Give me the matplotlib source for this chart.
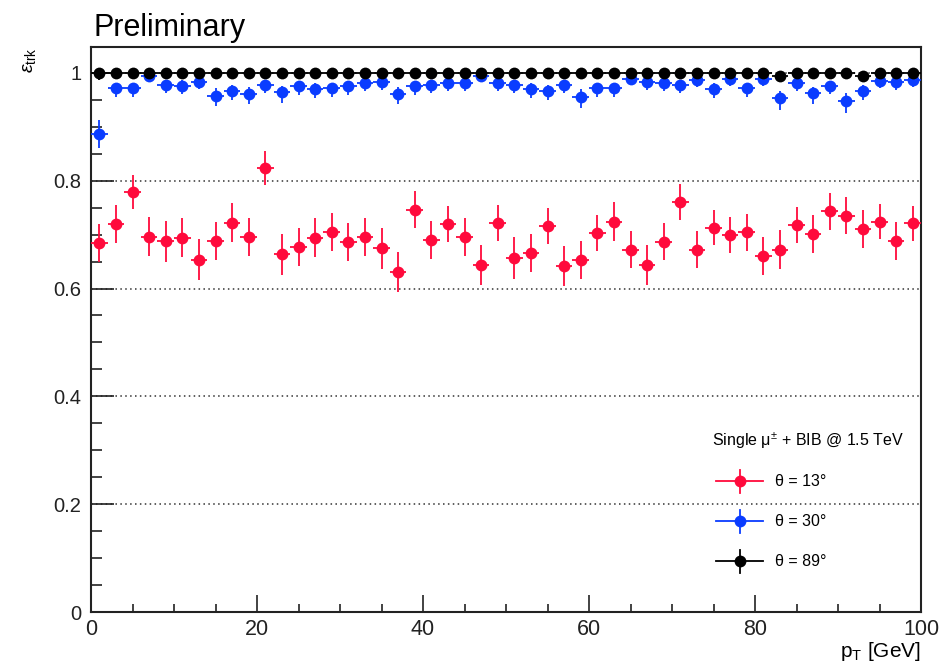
import matplotlib
matplotlib.use("Agg")
import matplotlib.pyplot as plt
from matplotlib.ticker import MultipleLocator

plt.rcParams['font.family'] = ['Liberation Sans', 'DejaVu Sans']
plt.rcParams['mathtext.fontset'] = 'custom'
plt.rcParams['mathtext.rm'] = 'Liberation Sans'
plt.rcParams['mathtext.it'] = 'Liberation Sans:italic'
plt.rcParams['mathtext.bf'] = 'Liberation Sans:bold'

# pT bin centres (2 GeV bins) and half widths
pt = [1, 3, 5, 7, 9, 11, 13, 15, 17, 19, 21, 23, 25, 27, 29, 31, 33, 35, 37, 39,
      41, 43, 45, 47, 49, 51, 53, 55, 57, 59, 61, 63, 65, 67, 69, 71, 73, 75, 77, 79,
      81, 83, 85, 87, 89, 91, 93, 95, 97, 99]
pt_halfwidth = [1.0] * 50

# theta = 13 deg
eff_13 = [0.685, 0.720, 0.779, 0.696, 0.688, 0.694, 0.653, 0.688, 0.722, 0.696,
          0.824, 0.664, 0.677, 0.694, 0.705, 0.686, 0.696, 0.675, 0.631, 0.746,
          0.690, 0.720, 0.696, 0.644, 0.722, 0.657, 0.666, 0.716, 0.642, 0.653,
          0.703, 0.724, 0.672, 0.644, 0.687, 0.760, 0.672, 0.713, 0.699, 0.704,
          0.660, 0.672, 0.718, 0.701, 0.743, 0.735, 0.711, 0.724, 0.688, 0.721]
err_13 = [0.035, 0.035, 0.032, 0.036, 0.038, 0.036, 0.038, 0.035, 0.036, 0.035,
          0.032, 0.038, 0.035, 0.036, 0.036, 0.035, 0.035, 0.038, 0.037, 0.034,
          0.036, 0.033, 0.035, 0.037, 0.033, 0.039, 0.036, 0.033, 0.037, 0.035,
          0.033, 0.036, 0.034, 0.037, 0.035, 0.033, 0.034, 0.033, 0.033, 0.035,
          0.035, 0.036, 0.033, 0.035, 0.035, 0.034, 0.035, 0.032, 0.036, 0.033]

# theta = 30 deg
eff_30 = [0.887, 0.972, 0.972, 0.994, 0.978, 0.976, 0.984, 0.958, 0.967, 0.961,
          0.978, 0.964, 0.975, 0.970, 0.972, 0.975, 0.981, 0.983, 0.961, 0.975,
          0.978, 0.981, 0.981, 0.994, 0.981, 0.978, 0.970, 0.967, 0.978, 0.956,
          0.972, 0.972, 0.989, 0.983, 0.981, 0.978, 0.987, 0.970, 0.988, 0.972,
          0.988, 0.953, 0.981, 0.962, 0.976, 0.948, 0.967, 0.985, 0.983, 0.987]
err_30_lo = [0.027, 0.017, 0.017, 0.010, 0.015, 0.016, 0.013, 0.020, 0.018, 0.019,
             0.015, 0.019, 0.016, 0.017, 0.017, 0.016, 0.014, 0.014, 0.019, 0.016,
             0.015, 0.014, 0.014, 0.010, 0.014, 0.015, 0.017, 0.018, 0.015, 0.021,
             0.017, 0.017, 0.012, 0.014, 0.014, 0.015, 0.013, 0.017, 0.012, 0.017,
             0.012, 0.022, 0.014, 0.019, 0.015, 0.022, 0.018, 0.013, 0.014, 0.013]
err_30_hi = [0.025, 0.010, 0.010, 0.005, 0.009, 0.010, 0.008, 0.014, 0.011, 0.013,
             0.009, 0.012, 0.010, 0.011, 0.010, 0.010, 0.008, 0.008, 0.013, 0.010,
             0.009, 0.008, 0.008, 0.005, 0.008, 0.009, 0.011, 0.011, 0.009, 0.014,
             0.010, 0.010, 0.007, 0.008, 0.008, 0.009, 0.007, 0.011, 0.007, 0.010,
             0.007, 0.014, 0.008, 0.012, 0.009, 0.015, 0.011, 0.008, 0.008, 0.007]

# theta = 89 deg
eff_89 = [1.000] * 41 + [0.995] + [1.000] * 4 + [0.995] + [1.000] * 3
err_89_lo = [0.013] + [0.006] * 40 + [0.010] + [0.006] * 4 + [0.010] + [0.006] * 3
err_89_hi = [0.0] * 41 + [0.005] + [0.0] * 4 + [0.005] + [0.0] * 3

series = [
    (eff_13, [err_13, err_13], '#ff0a3c', 'θ = 13°'),
    (eff_30, [err_30_lo, err_30_hi], '#0a3cff', 'θ = 30°'),
    (eff_89, [err_89_lo, err_89_hi], '#000000', 'θ = 89°'),
]

W, H = 943, 667
fig = plt.figure(figsize=(W / 100, H / 100), dpi=100)
ax = fig.add_axes([91 / W, 1 - 612 / H, (921 - 91) / W, (612 - 47) / H])

for y, yerr, color, label in series:
    ax.errorbar(pt, y, xerr=pt_halfwidth, yerr=yerr, fmt='o', color=color,
                ms=8.5, elinewidth=1.3, capsize=3.0, capthick=1.3,
                markeredgewidth=0, zorder=3)

ax.set_xlim(0, 100)
ax.set_ylim(0, 1.048)

# horizontal dotted grid
for g in [0.2, 0.4, 0.6, 0.8, 1.0]:
    ax.axhline(g, color='#333333', lw=1.1, ls=(0, (1, 2.2)), zorder=1)

ax.xaxis.set_major_locator(MultipleLocator(20))
ax.xaxis.set_minor_locator(MultipleLocator(5))
ax.yaxis.set_major_locator(MultipleLocator(0.2))
ax.yaxis.set_minor_locator(MultipleLocator(0.05))
ax.set_yticks([0, 0.2, 0.4, 0.6, 0.8, 1.0])
ax.set_yticklabels(['0', '0.2', '0.4', '0.6', '0.8', '1'])
ax.tick_params(axis='both', which='both', direction='in', top=False, right=False,
               width=1.2, colors='#222222')
ax.tick_params(axis='y', which='major', length=16.5, pad=7, labelsize=14.5)
ax.tick_params(axis='y', which='minor', length=7.7)
ax.tick_params(axis='x', which='major', length=12, pad=5, labelsize=15.5)
ax.tick_params(axis='x', which='minor', length=6)
for s in ax.spines.values():
    s.set_linewidth(1.5)
    s.set_color('#222222')

# axis titles
ax.text(1.0, (612 - 657) / 565, r'p$_{\mathrm{T}}$ [GeV]', transform=ax.transAxes,
        ha='right', va='baseline', fontsize=15)
ax.text((30 - 91) / 830, 1.0, r'$\epsilon_{\mathrm{trk}}$', transform=ax.transAxes,
        ha='center', va='top', rotation=90, fontsize=14)

fig.text(93 / W, 1 - 36 / H, 'Preliminary', ha='left', va='baseline', fontsize=22)

# legend
def ax_x(px):
    return (px - 91) / 830


def ax_y(py):
    return (612 - py) / 565


ax.text(ax_x(712), ax_y(441), r'Single μ$^{\pm}$ + BIB @ 1.5 TeV',
        transform=ax.transAxes, ha='left', va='center', fontsize=11.5)
for (y, yerr, color, label), row in zip(series, [481, 521, 561]):
    yc = ax_y(row)
    ax.plot([ax_x(716), ax_x(763)], [yc, yc], color=color, lw=1.3,
            transform=ax.transAxes, clip_on=False, zorder=4)
    ax.plot([ax_x(739.5), ax_x(739.5)], [ax_y(row - 11.5), ax_y(row + 11.5)],
            color=color, lw=1.3, transform=ax.transAxes, clip_on=False, zorder=4)
    ax.plot([ax_x(739.5)], [yc], 'o', color=color, ms=8.5, mew=0,
            transform=ax.transAxes, clip_on=False, zorder=5)
    ax.text(ax_x(775), yc, label, transform=ax.transAxes, ha='left', va='center',
            fontsize=11.5)

fig.savefig('out.png', dpi=100)
